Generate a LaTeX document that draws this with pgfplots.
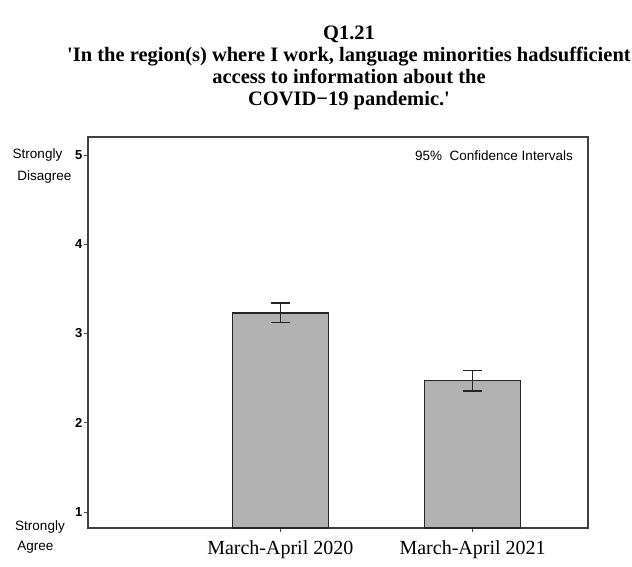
\documentclass[border=0pt]{standalone}
\usepackage{fontspec}
\setmainfont{Liberation Serif}[Ligatures=TeXOff]
\newfontfamily\arial{Liberation Sans}
\usepackage{pgfplots}
\pgfplotsset{compat=1.18}
\begin{document}
\begin{tikzpicture}[x=1pt,y=1pt]
\useasboundingbox (-88,-38) rectangle (544,528);
\begin{axis}[scale only axis, width=500pt, height=391pt, at={(0,0)}, anchor=south west,
 xmin=0, xmax=2.6, ymin=0.821, ymax=5.2,
 axis line style={draw=black!75, line width=1.3pt},
 xtick={1,2}, xticklabels={March-April 2020, March-April 2021},
 ytick={1,2,3,4,5},
 tick align=outside, xtick pos=bottom, ytick pos=left,
 major tick length=4pt,
 tick style={black!70, line width=0.6pt},
 xticklabel style={font=\fontsize{20}{20}\selectfont, yshift=-5pt},
 yticklabel style={font=\arial\bfseries\fontsize{13}{13}\selectfont, xshift=2pt},
 /pgf/number format/assume math mode=true,
 bar width=0.5,
]
\addplot[ybar, fill=black!30, draw=black!85, line width=1.4pt,
  error bars/.cd, y dir=both, y explicit,
  error bar style={line width=1.5pt, black!85},
  error mark options={rotate=90, line width=1.5pt, mark size=9.5pt, black!85}]
  coordinates {(1,3.23) +- (0,0.11) (2,2.47) +- (0,0.117)};
\end{axis}
\begin{scope}[every node/.style={inner sep=0pt, anchor=base}]
\node[font=\bfseries\fontsize{20.5}{22}\selectfont] at (261,488) {Q1.21};
\node[font=\bfseries\fontsize{20.5}{22}\selectfont] at (261,466) {'In the region(s) where I work, language minorities hadsufficient};
\node[font=\bfseries\fontsize{20.5}{22}\selectfont] at (261,444) {access to information about the};
\node[font=\bfseries\fontsize{20.5}{22}\selectfont] at (261,422) {COVID−19 pandemic.'};
\node[font=\arial\fontsize{13.5}{14}\selectfont] at (-50.5,369) {Strongly};
\node[font=\arial\fontsize{13.5}{14}\selectfont] at (-43.5,348) {Disagree};
\node[font=\arial\fontsize{13.5}{14}\selectfont] at (-48,-2) {Strongly};
\node[font=\arial\fontsize{13.5}{14}\selectfont] at (-52.5,-22) {Agree};
\node[font=\arial\fontsize{13.5}{14}\selectfont, anchor=base west] at (327,367) {95\%\ \ Confidence Intervals};
\end{scope}
\end{tikzpicture}
\end{document}
